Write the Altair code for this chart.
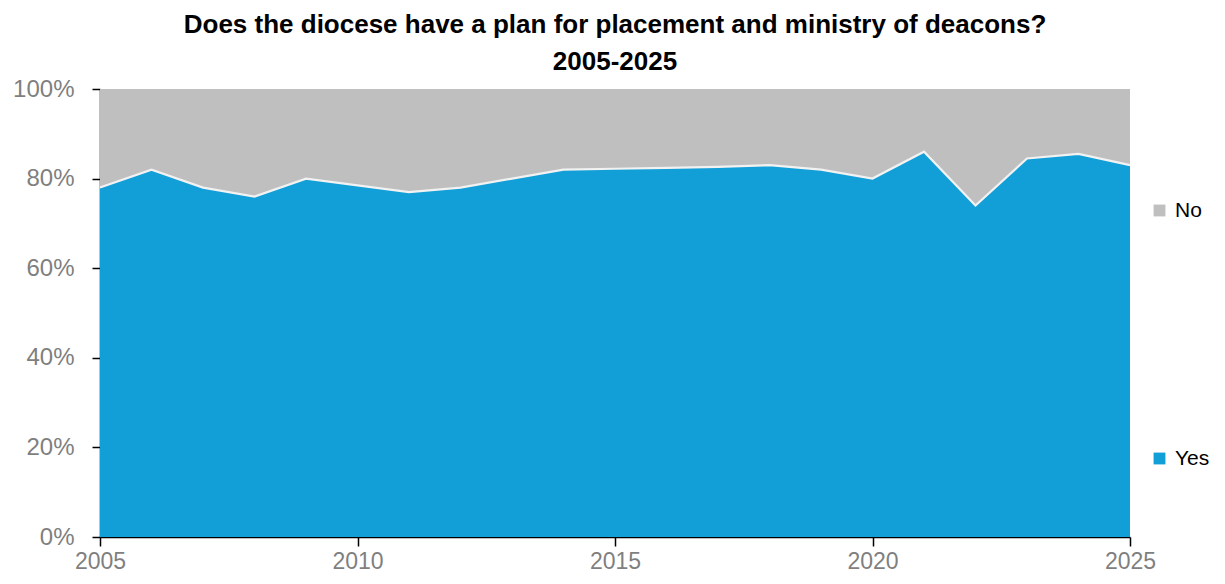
import altair as alt
import pandas as pd

years = list(range(2005, 2026))
yes_pct = [78, 82, 78, 76, 80, 78.5, 77, 78, 80, 82, 82.2, 82.4, 82.6, 83, 82, 80, 86, 74, 84.5, 85.5, 83]
no_pct = [22, 18, 22, 24, 20, 21.5, 23, 22, 20, 18, 17.8, 17.6, 17.4, 17, 18, 20, 14, 26, 15.5, 14.5, 17]
series = ["No", "Yes"]
colors = ["#bfbfbf", "#129ed7"]
stack_order = {"Yes": 0, "No": 1}

rows = []
for y, a, b in zip(years, yes_pct, no_pct):
    rows.append({"year": y, "answer": "Yes", "share": a / 100, "ord": stack_order["Yes"]})
    rows.append({"year": y, "answer": "No", "share": b / 100, "ord": stack_order["No"]})
df = pd.DataFrame(rows)

FONT = "Liberation Sans, Arial, sans-serif"

x_enc = alt.X("year:Q", scale=alt.Scale(domain=[2005, 2025], nice=False, zero=False),
              axis=alt.Axis(values=[2005, 2010, 2015, 2020, 2025], format="d", title=None,
                            grid=False, labelFontSize=23, labelColor="#7f7f7f", labelFont=FONT,
                            domainColor="black", domainWidth=1.5, tickColor="black", tickWidth=1.5,
                            tickSize=9, labelPadding=4, labelFlush=False))
y_enc = alt.Y("share:Q", stack="zero", scale=alt.Scale(domain=[0, 1], nice=False),
              axis=alt.Axis(values=[0, 0.2, 0.4, 0.6, 0.8, 1.0], format=".0%", title=None,
                            grid=False, labelFontSize=24, labelColor="#7f7f7f", labelFont=FONT,
                            domainColor="black", domainWidth=1.5, tickColor="black", tickWidth=1.5,
                            tickSize=8, labelPadding=18, labelFlush=False))

area = alt.Chart(df).mark_area(interpolate="linear", opacity=1).encode(
    x=x_enc,
    y=y_enc,
    color=alt.Color("answer:N", scale=alt.Scale(domain=series, range=colors),
                    legend=alt.Legend(title=None, orient="none", legendX=1049, legendY=111,
                                      symbolType="square", symbolSize=140, symbolStrokeWidth=0,
                                      labelFontSize=21, labelColor="black", labelFont=FONT,
                                      rowPadding=226, labelOffset=5)),
    order=alt.Order("ord:Q", sort="ascending"),
)

line = alt.Chart(df).transform_filter(alt.datum.answer == "Yes").mark_line(
    color="#f2f2f2", strokeWidth=2.2, interpolate="linear"
).encode(
    x=alt.X("year:Q"),
    y=alt.Y("share:Q"),
)

chart = alt.layer(area, line).properties(
    width=1030,
    height=448,
    title=alt.Title(
        ["Does the diocese have a plan for placement and ministry of deacons?", "2005-2025"],
        fontSize=26, fontWeight="bold", color="black", font=FONT, anchor="middle",
        lineHeight=37, offset=2,
    ),
    autosize=alt.AutoSizeParams(type="none"),
    padding={"left": 92, "top": 81, "right": 87, "bottom": 35},
).configure_view(stroke=None)

chart.save("out.html", embed_options={"renderer": "svg", "actions": False})
